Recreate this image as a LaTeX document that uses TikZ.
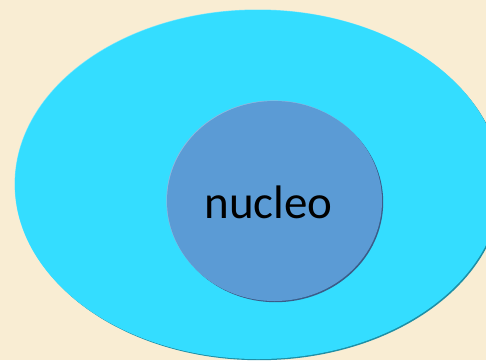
\documentclass[tikz,border=0pt]{standalone}
\usepackage{fontspec}
\setmainfont{Carlito}
\usetikzlibrary{shapes.geometric}
\definecolor{parch}{HTML}{F9EDD3}
\definecolor{cellcyan}{HTML}{34DDFF}
\definecolor{cellshadow}{HTML}{1E8FA6}
\definecolor{nucblue}{HTML}{5B9BD5}
\definecolor{nucshadow}{HTML}{3A5C88}
\definecolor{nuclight}{HTML}{8FB8E0}
\tikzset{
  blob/.style={ellipse, inner sep=0pt, outer sep=0pt, draw=none},
}
\begin{document}
\begin{tikzpicture}[x=1pt,y=1pt]
\useasboundingbox (0,0) rectangle (486,360);
\clip (0,0) rectangle (486,360);
\fill[parch] (0,0) rectangle (486,360);
% outer cell
\node[blob, fill=cellshadow, minimum width=486, minimum height=349] (cellsh) at (259.2,174.3) {};
\node[blob, fill=cellcyan!70!white, minimum width=486, minimum height=349] (cellhl) at (257.6,176.0) {};
\node[blob, fill=cellcyan, minimum width=486, minimum height=349] (cell) at (258,175.5) {};
% nucleus
\node[blob, fill=nucshadow, minimum width=215, minimum height=200] (nucsh) at (275.7,157.8) {};
\node[blob, fill=nuclight, minimum width=215, minimum height=200] (nuchl) at (273.8,159.6) {};
\node[blob, fill=nucblue, minimum width=215, minimum height=200] (nuc) at (274.5,159) {};
\node[anchor=base, inner sep=0pt, font=\fontsize{47}{56}\selectfont] (label) at (268.5,142) {nucleo};
\end{tikzpicture}
\end{document}
